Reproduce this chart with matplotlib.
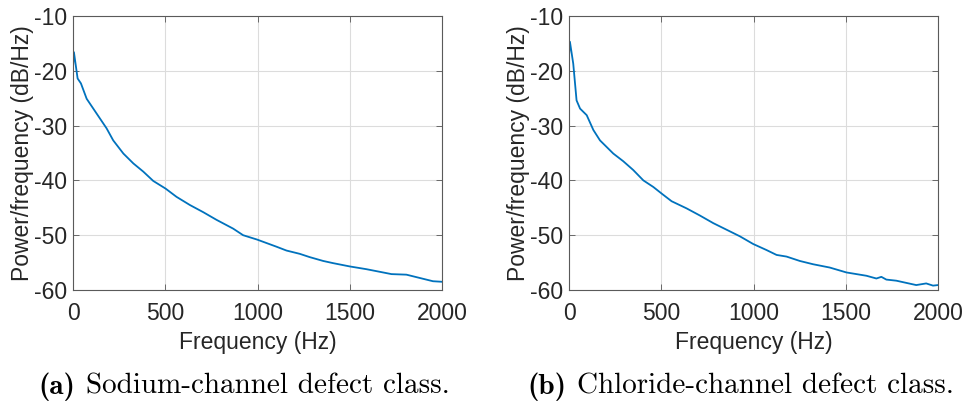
import matplotlib
matplotlib.use('Agg')
import matplotlib.pyplot as plt

# PSD estimates, Hz vs dB/Hz
freq_na = [0, 5, 25, 43, 74, 128, 182, 218, 273, 327, 381, 435, 502, 561, 634,
           706, 778, 868, 922, 998, 1103, 1157, 1229, 1283, 1356, 1410, 1500,
           1590, 1681, 1726, 1807, 1879, 1951, 2000]
psd_na = [-19.3, -16.6, -21.4, -22.3, -25.1, -27.8, -30.5, -32.7, -35.1, -36.9,
          -38.4, -40.1, -41.5, -43.0, -44.5, -45.8, -47.2, -48.8, -50.0, -50.8,
          -52.1, -52.8, -53.4, -54.0, -54.7, -55.1, -55.7, -56.2, -56.8, -57.1,
          -57.2, -57.8, -58.4, -58.5]

freq_cl = [0, 5, 23, 41, 60, 96, 132, 168, 204, 240, 294, 348, 403, 457, 502,
           556, 637, 709, 782, 854, 926, 998, 1070, 1125, 1179, 1251, 1323, 1413,
           1504, 1558, 1612, 1666, 1693, 1720, 1774, 1828, 1882, 1936, 1973, 2000]
psd_cl = [-17.2, -14.7, -18.7, -25.4, -26.9, -28.1, -30.8, -32.7, -33.9, -35.1,
          -36.5, -38.1, -40.0, -41.2, -42.4, -43.8, -45.1, -46.4, -47.8, -49.0,
          -50.2, -51.6, -52.7, -53.6, -53.9, -54.7, -55.3, -55.9, -56.8, -57.1,
          -57.4, -57.9, -57.6, -58.1, -58.3, -58.7, -59.1, -58.8, -59.2, -59.1]

xticks = [0, 500, 1000, 1500, 2000]
yticks = [-60, -50, -40, -30, -20, -10]
captions = [('(a)', 'Sodium-channel defect class.'),
            ('(b)', 'Chloride-channel defect class.')]

line_col = '#0072BD'
txt_col = '#262626'

fig = plt.figure(figsize=(9.63, 4.01), dpi=100)
ax_l = fig.add_axes([73/963, 1 - 290/401, 369/963, 274/401])
ax_r = fig.add_axes([569/963, 1 - 290/401, 369/963, 274/401])

for ax, fx, py in [(ax_l, freq_na, psd_na), (ax_r, freq_cl, psd_cl)]:
    ax.plot(fx, py, color=line_col, lw=1.3)
    ax.set_xlim(0, 2000)
    ax.set_ylim(-60, -10)
    ax.set_xticks(xticks)
    ax.set_yticks(yticks)
    ax.set_yticklabels([str(t) for t in yticks])
    ax.grid(True, color='#dcdcdc', lw=0.8)
    ax.set_axisbelow(True)
    ax.tick_params(direction='in', length=4, width=0.6, colors='#555555',
                   labelcolor=txt_col, labelsize=16.5, top=True, right=True, pad=4)
    ax.tick_params(axis='x', pad=9)
    for lbl in ax.get_xticklabels() + ax.get_yticklabels():
        lbl.set_family('Liberation Sans')
    for sp in ax.spines.values():
        sp.set_color('#5a5a5a')
        sp.set_linewidth(0.8)
    ax.set_xlabel('Frequency (Hz)', fontsize=16.5, family='Liberation Sans',
                  color=txt_col, labelpad=4)
    ax.set_ylabel('Power/frequency (dB/Hz)', fontsize=16.5, family='Liberation Sans',
                  color=txt_col, labelpad=0)

# sub-figure captions: bold tag, then the description right after it
fig.canvas.draw()
rend = fig.canvas.get_renderer()
for x0, (tag, body) in zip([38, 527], captions):
    t = fig.text(x0/963, 1 - 394/401, tag, fontsize=21, family='cmb10',
                 ha='left', va='baseline', color='black')
    bb = t.get_window_extent(renderer=rend)
    fig.text((bb.x1 + 11)/963, 1 - 394/401, body, fontsize=21, family='cmr10',
             ha='left', va='baseline', color='black')

fig.savefig('out.png', dpi=100)
plt.close(fig)
